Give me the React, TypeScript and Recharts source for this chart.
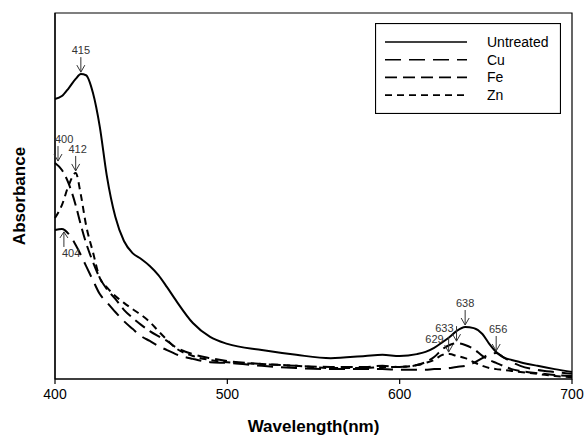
import { Line, LineChart, ReferenceArea, ReferenceDot, XAxis, YAxis } from "recharts";

const wavelengths = [
  400, 404, 408, 412, 415, 418, 422, 426, 430, 435, 440, 445, 450, 455, 460, 465, 470, 480, 490, 500, 520, 540,
  560, 580, 590, 600, 610, 615, 620, 625, 629, 633, 638, 643, 648, 652, 656, 660, 665, 670, 680, 690, 700,
];

const untreated = [
  0.765, 0.773, 0.795, 0.82, 0.833, 0.83, 0.782, 0.689, 0.557, 0.443, 0.377, 0.344, 0.328, 0.309, 0.284, 0.251,
  0.216, 0.153, 0.115, 0.096, 0.079, 0.066, 0.057, 0.063, 0.066, 0.063, 0.068, 0.074, 0.085, 0.101, 0.115, 0.131,
  0.142, 0.139, 0.123, 0.096, 0.074, 0.06, 0.052, 0.046, 0.036, 0.027, 0.019,
];

const cu = [
  0.407, 0.41, 0.396, 0.366, 0.339, 0.309, 0.27, 0.232, 0.21, 0.183, 0.158, 0.137, 0.117, 0.104, 0.09, 0.079,
  0.068, 0.055, 0.046, 0.044, 0.036, 0.03, 0.027, 0.027, 0.027, 0.025, 0.025, 0.025, 0.027, 0.027, 0.03, 0.033,
  0.036, 0.044, 0.057, 0.068, 0.071, 0.06, 0.046, 0.036, 0.025, 0.019, 0.014,
];

const fe = [
  0.59, 0.571, 0.533, 0.475, 0.421, 0.372, 0.32, 0.276, 0.246, 0.219, 0.189, 0.167, 0.148, 0.131, 0.117, 0.104,
  0.087, 0.068, 0.057, 0.049, 0.041, 0.036, 0.033, 0.033, 0.036, 0.033, 0.038, 0.046, 0.06, 0.082, 0.093, 0.098,
  0.093, 0.082, 0.063, 0.052, 0.044, 0.036, 0.027, 0.022, 0.016, 0.011, 0.008,
];

const zn = [
  0.44, 0.475, 0.53, 0.563, 0.503, 0.421, 0.347, 0.276, 0.251, 0.227, 0.208, 0.191, 0.175, 0.156, 0.131, 0.107,
  0.085, 0.063, 0.052, 0.046, 0.041, 0.036, 0.03, 0.03, 0.033, 0.033, 0.038, 0.044, 0.052, 0.066, 0.068, 0.063,
  0.057, 0.046, 0.036, 0.03, 0.027, 0.025, 0.022, 0.019, 0.014, 0.008, 0.005,
];

const xTicks = [400, 500, 600, 700];

// peak markers: which series, which wavelength
const peakLabels = ["415", "400", "412", "404", "638", "633", "629", "656"];
const peakSeries = ["untreated", "fe", "zn", "cu", "untreated", "fe", "zn", "cu"];
const peakWl = [415, 400, 412, 404, 638, 633, 629, 656];

const series = [
  { key: "untreated", name: "Untreated", dash: undefined },
  { key: "cu", name: "Cu", dash: "16 8" },
  { key: "fe", name: "Fe", dash: "12 6" },
  { key: "zn", name: "Zn", dash: "7 5" },
];

const values: Record<string, number[]> = { untreated, cu, fe, zn };

const data = wavelengths.map((wl, i) => ({
  wl,
  untreated: untreated[i],
  cu: cu[i],
  fe: fe[i],
  zn: zn[i],
}));

const FONT = "'Liberation Sans', Arial, sans-serif";

// label / arrow nudges so the numbers sit where the original has them
const nudge: Record<string, { ax: number; tx: number; anchor: string; up?: boolean }> = {
  "415": { ax: 0, tx: 0, anchor: "middle" },
  "400": { ax: 3, tx: 0, anchor: "start" },
  "412": { ax: 0, tx: 2, anchor: "middle" },
  "404": { ax: 2, tx: 0, anchor: "start", up: true },
  "638": { ax: 0, tx: 0, anchor: "middle" },
  "633": { ax: 0, tx: -1, anchor: "end" },
  "629": { ax: -1, tx: -3, anchor: "end" },
  "656": { ax: 0, tx: 2, anchor: "middle" },
};

function Arrow(props: any) {
  const { cx, cy, label } = props;
  const n = nudge[label];
  const x = cx + n.ax;
  const len = 15;
  if (n.up) {
    const tip = cy + 3;
    return (
      <g>
        <line x1={x} y1={tip} x2={x} y2={tip + len} stroke="#333" strokeWidth={1} />
        <polyline points={`${x - 4},${tip + 6} ${x},${tip} ${x + 4},${tip + 6}`} fill="none" stroke="#333" strokeWidth={1} />
        <text x={cx + n.tx} y={tip + len + 10} textAnchor={n.anchor} fontSize={11} fill="#333" fontFamily={FONT}>
          {label}
        </text>
      </g>
    );
  }
  const tip = cy - 2;
  const tx = n.anchor === "end" ? x - 2 + n.tx : n.anchor === "start" ? cx + n.tx : x + n.tx;
  const ty = n.anchor === "end" ? tip - len + 6 : tip - len - 3;
  return (
    <g>
      <line x1={x} y1={tip - len} x2={x} y2={tip} stroke="#333" strokeWidth={1} />
      <polyline points={`${x - 4},${tip - 7} ${x},${tip} ${x + 4},${tip - 7}`} fill="none" stroke="#333" strokeWidth={1} />
      <text x={tx} y={ty} textAnchor={n.anchor} fontSize={11} fill="#333" fontFamily={FONT}>
        {label}
      </text>
    </g>
  );
}

function LegendBox() {
  return (
    <svg width={186} height={91} style={{ display: "block" }}>
      <rect x={0.5} y={0.5} width={185} height={90} fill="#fff" stroke="#000" strokeWidth={1.2} />
      {series.map((s, i) => (
        <g key={s.key}>
          <line x1={10} x2={92} y1={19 + i * 17.7} y2={19 + i * 17.7} stroke="#000" strokeWidth={1.6} strokeDasharray={s.dash} />
          <text x={112} y={24 + i * 17.7} fontSize={14} fontFamily={FONT} fill="#000">
            {s.name}
          </text>
        </g>
      ))}
    </svg>
  );
}

export default function App() {
  return (
    <div style={{ position: "absolute", left: 0, top: 0, width: 585, height: 443, fontFamily: FONT }}>
      <LineChart width={585} height={443} data={data} margin={{ top: 13, right: 13, left: 0, bottom: 11 }}>
        <XAxis
          dataKey="wl"
          type="number"
          domain={[400, 700]}
          ticks={xTicks}
          height={53}
          tickSize={5}
          tickMargin={5}
          stroke="#000"
          strokeWidth={1.2}
          tick={{ fill: "#000", fontSize: 14, fontFamily: FONT }}
          label={{
            content: ({ viewBox }: any) => (
              <text
                x={viewBox.x + viewBox.width / 2}
                y={viewBox.y + 53}
                textAnchor="middle"
                fontSize={17}
                fontWeight="bold"
                fontFamily={FONT}
                fill="#000"
              >
                Wavelength(nm)
              </text>
            ),
          }}
        />
        <YAxis
          type="number"
          domain={[0, 1]}
          width={55}
          tick={false}
          tickLine={false}
          stroke="#000"
          strokeWidth={1.2}
          label={{
            content: ({ viewBox }: any) => {
              const x = 25;
              const y = viewBox.y + viewBox.height / 2;
              return (
                <text
                  x={x}
                  y={y}
                  transform={`rotate(-90, ${x}, ${y})`}
                  textAnchor="middle"
                  fontSize={17}
                  fontWeight="bold"
                  fontFamily={FONT}
                  fill="#000"
                >
                  Absorbance
                </text>
              );
            },
          }}
        />
        <ReferenceArea x1={400} x2={700} y1={0} y2={1} fill="none" stroke="#000" strokeWidth={1.2} />
        {series.map((s) => (
          <Line
            key={s.key}
            dataKey={s.key}
            name={s.name}
            type="monotone"
            stroke="#000"
            strokeWidth={2}
            strokeDasharray={s.dash}
            dot={false}
            activeDot={false}
            isAnimationActive={false}
          />
        ))}
        {peakLabels.map((lab, i) => {
          const idx = wavelengths.indexOf(peakWl[i]);
          const v = values[peakSeries[i]][idx];
          return (
            <ReferenceDot
              key={lab}
              x={peakWl[i]}
              y={v}
              ifOverflow="visible"
              shape={(p: any) => <Arrow {...p} label={lab} />}
            />
          );
        })}
      </LineChart>
      <div style={{ position: "absolute", left: 375, top: 23 }}>
        <LegendBox />
      </div>
    </div>
  );
}
